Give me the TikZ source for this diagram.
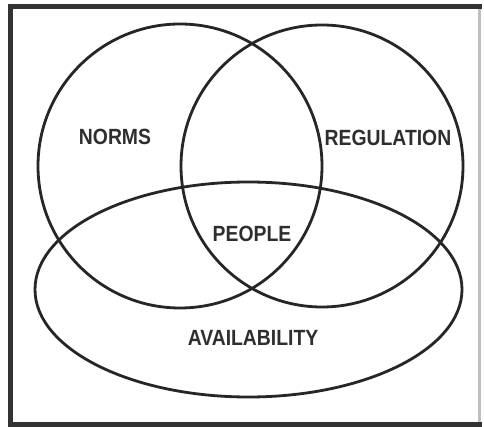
\documentclass[tikz,border=0pt]{standalone}
\usepackage{fontspec}
\setmainfont{Liberation Sans}
\begin{document}
\begin{tikzpicture}[x=1pt,y=-1pt,
  setline/.style={draw=black!85, line width=2.8pt},
  setlabel/.style={font=\fontsize{22}{22}\selectfont\bfseries, text=black!82, inner sep=0pt, xscale=0.88},
  framestyle/.style={draw=black!80, line width=5.5pt}]
\useasboundingbox (0,0) rectangle (484,427);
\fill[white] (0,0) rectangle (484,427);
% frame
\draw[draw=black!25, line width=3pt] (479,6) -- (479,424);
\draw[framestyle, line cap=rect] (10.5,424.5) -- (10.5,6.5) -- (479,6.5);
\draw[framestyle] (8,424.5) -- (482,424.5);
% sets
\draw[setline] (180,166) circle[radius=142];
\draw[setline] (322,166) circle[radius=141];
\draw[setline] (248.5,289.5) ellipse[x radius=213.5, y radius=107.5];
% labels
\node[setlabel] (norms) at (115,137) {NORMS};
\node[setlabel] (regulation) at (388,138) {REGULATION};
\node[setlabel] (people) at (252,234) {PEOPLE};
\node[setlabel] (availability) at (253,338) {AVAILABILITY};
\end{tikzpicture}
\end{document}
